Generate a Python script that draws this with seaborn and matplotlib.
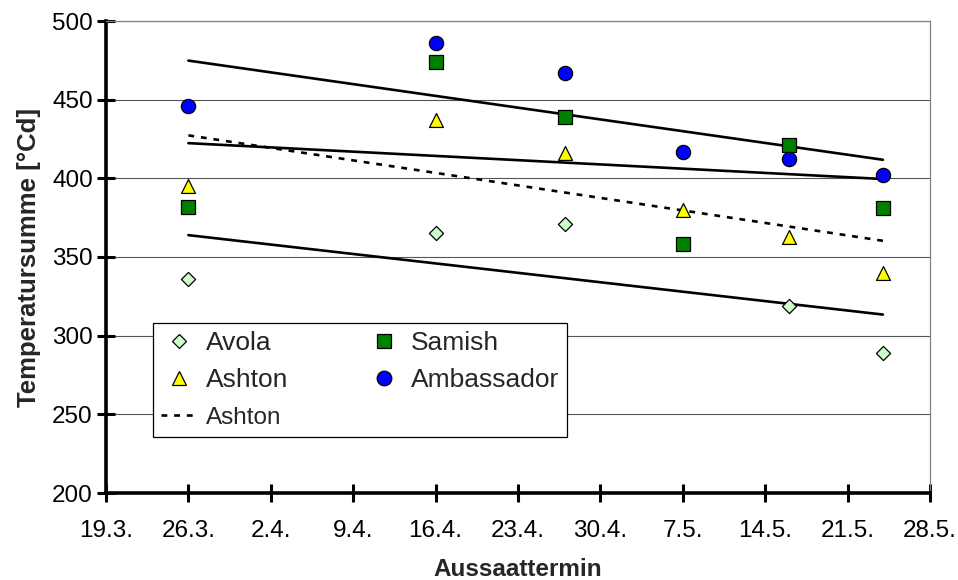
import numpy as np
import pandas as pd
import matplotlib
matplotlib.use("Agg")
import matplotlib.pyplot as plt
from matplotlib.lines import Line2D
import seaborn as sns

# Sowing dates (days after 19 March) and thermal time per variety
sowing_dates = ["26.3.", "16.4.", "27.4.", "7.5.", "16.5.", "24.5."]
days_after_start = [7, 28, 39, 49, 58, 66]

avola = [336, 365, 371, np.nan, 319, 289]
ashton = [395, 437, 416, 380, 363, 340]
samish = [382, 474, 439, 358, 421, 381]
ambassador = [446, 486, 467, 417, 412, 402]

tick_labels = ["19.3.", "26.3.", "2.4.", "9.4.", "16.4.", "23.4.",
               "30.4.", "7.5.", "14.5.", "21.5.", "28.5."]

sns.set_theme(style="white")
plt.rcParams["font.family"] = ["Liberation Sans", "DejaVu Sans"]

df = pd.DataFrame({
    "tag": days_after_start,
    "Avola": avola,
    "Ashton": ashton,
    "Samish": samish,
    "Ambassador": ambassador,
})

fig = plt.figure(figsize=(9.58, 5.80), dpi=100)
ax = fig.add_axes([106 / 958, 1 - 493 / 580, 824 / 958, 472 / 580])

# horizontal grid
ax.set_ylim(200, 500)
ax.set_xlim(0, 70)
ax.set_yticks(np.arange(200, 501, 50))
ax.yaxis.grid(True, color="#555555", linewidth=0.8)
ax.set_axisbelow(True)

# regression lines
dash = (0, (2.2, 2.6))
line_style = {"color": "black", "linewidth": 1.9}
for name, ls in [("Ambassador", "-"), ("Samish", "-"), ("Avola", "-"),
                 ("Ashton", dash)]:
    sns.regplot(data=df, x="tag", y=name, ax=ax, scatter=False, ci=None,
                truncate=True, line_kws={**line_style, "linestyle": ls})

# markers per variety
styles = {
    "Avola": dict(marker="D", color="#CCFFCC", s=52),
    "Ashton": dict(marker="^", color="#FFFF00", s=100),
    "Samish": dict(marker="s", color="#008000", s=100),
    "Ambassador": dict(marker="o", color="#0000FF", s=105),
}
for name in ["Avola", "Samish", "Ashton", "Ambassador"]:
    st = styles[name]
    sns.scatterplot(data=df, x="tag", y=name, ax=ax, marker=st["marker"],
                    color=st["color"], s=st["s"], edgecolor="black",
                    linewidth=0.9, zorder=3)

# axes styling
ax.set_xticks(np.arange(0, 71, 7))
ax.set_xticklabels(tick_labels)
for side in ["left", "bottom"]:
    ax.spines[side].set_color("black")
    ax.spines[side].set_linewidth(2.6)
for side in ["top", "right"]:
    ax.spines[side].set_color("#808080")
    ax.spines[side].set_linewidth(0.9)
ax.tick_params(axis="both", which="major", bottom=True, left=True,
               direction="inout", length=13, width=2.2,
               colors="black", labelsize=17.5)
ax.tick_params(axis="x", pad=13)
ax.tick_params(axis="y", pad=3)

ax.set_xlabel("Aussaattermin", fontsize=17.5, fontweight="bold",
              va="baseline")
ax.set_ylabel("Temperatursumme [°Cd]", fontsize=18.5, fontweight="bold")
ax.xaxis.set_label_coords(0.5, -(576 - 493) / 472)
ax.yaxis.set_label_coords(-0.079, 0.5)

# legend
handles = [
    Line2D([], [], linestyle="none", marker="D", markersize=7,
           markerfacecolor="#CCFFCC", markeredgecolor="black", markeredgewidth=0.9),
    Line2D([], [], linestyle="none", marker="^", markersize=10,
           markerfacecolor="#FFFF00", markeredgecolor="black", markeredgewidth=0.9),
    Line2D([], [], color="black", linewidth=1.9, linestyle=dash),
    Line2D([], [], linestyle="none", marker="s", markersize=10,
           markerfacecolor="#008000", markeredgecolor="black", markeredgewidth=0.9),
    Line2D([], [], linestyle="none", marker="o", markersize=10.5,
           markerfacecolor="#0000FF", markeredgecolor="black", markeredgewidth=0.9),
]
labels = ["Avola", "Ashton", "Ashton", "Samish", "Ambassador"]
leg = ax.legend(handles, labels, ncol=2, loc="upper left",
                bbox_to_anchor=(47 / 824, (493 - 323) / 472),
                fontsize=19, frameon=True, fancybox=False, framealpha=1,
                edgecolor="black", borderpad=0.3, labelspacing=0.5,
                handlelength=1.4, handletextpad=0.3, columnspacing=2.95,
                borderaxespad=0)
leg.get_frame().set_linewidth(0.9)
leg.get_texts()[2].set_fontsize(17.5)

fig.savefig("out.png", dpi=100)
